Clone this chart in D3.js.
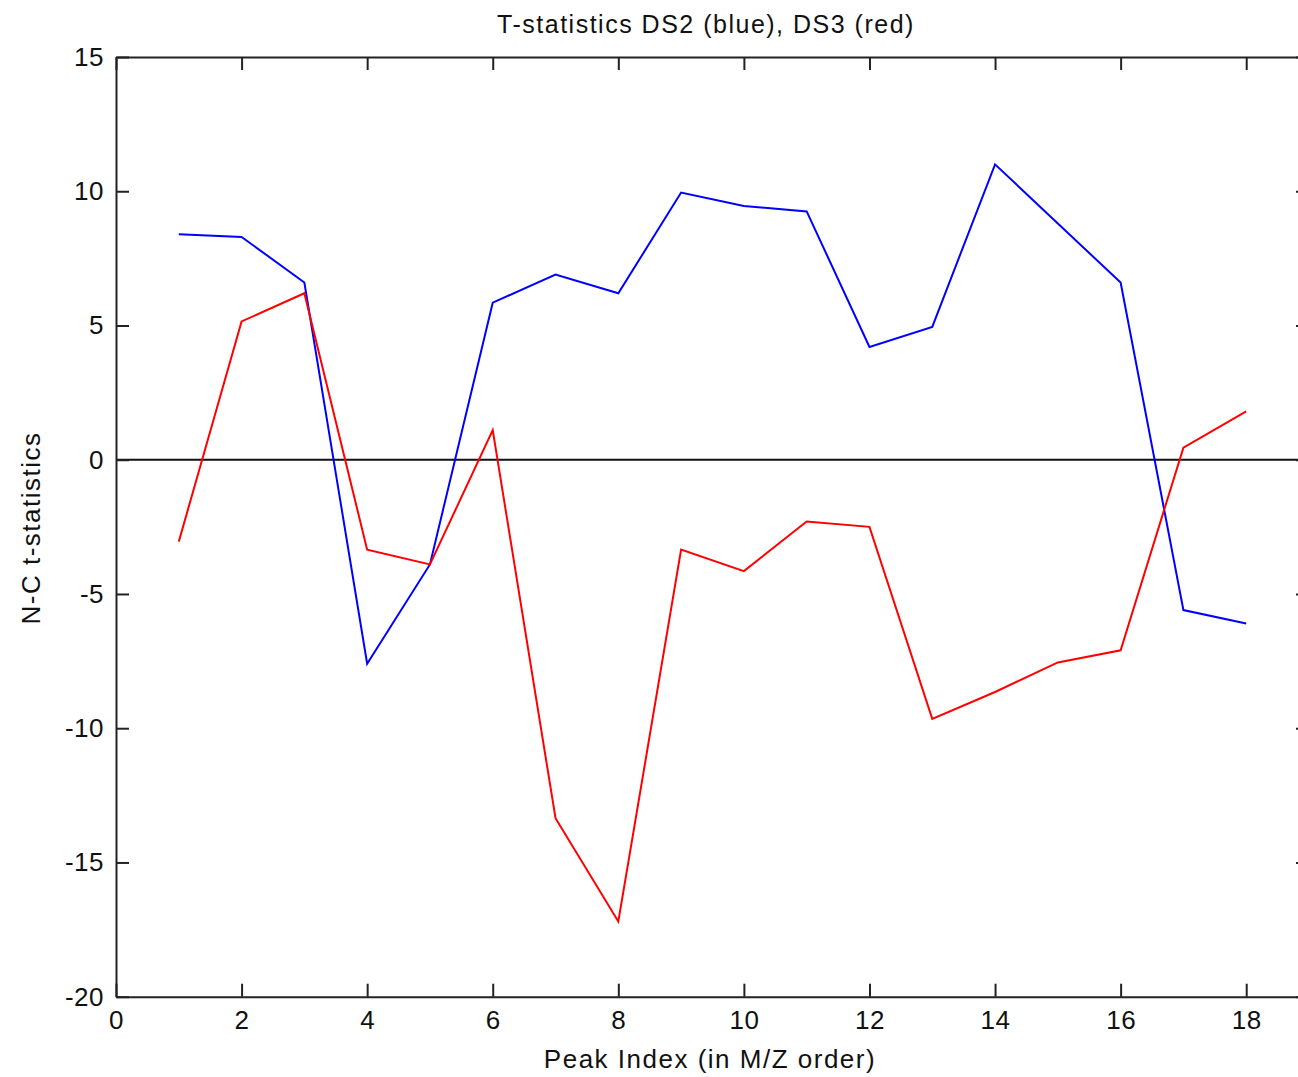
<!DOCTYPE html>
<html>
<head>
<meta charset="utf-8">
<script src="https://cdn.jsdelivr.net/npm/d3@7"></script>
<style>
  body { margin: 0; background: #fff; }
  svg { display: block; }
  .axis text { font-family: "Liberation Sans", Arial, sans-serif; font-size: 26px; fill: #111; letter-spacing: 0.5px; }
  .axis path, .axis line { stroke: #222; stroke-width: 2px; }
  .label { font-family: "Liberation Sans", Arial, sans-serif; fill: #111; letter-spacing: 1.5px; }
</style>
</head>
<body>
<div class="viz"></div>
<script>
// peak index along x, t-statistics for the two data sets
var peakIndex = [1, 2, 3, 4, 5, 6, 7, 8, 9, 10, 11, 12, 13, 14, 15, 16, 17, 18];
var ds2 = [8.4, 8.3, 6.6, -7.6, -3.9, 5.85, 6.9, 6.2, 9.95, 9.45, 9.25, 4.2, 4.95, 11.0, 8.8, 6.6, -5.6, -6.1];
var ds3 = [-3.05, 5.15, 6.2, -3.35, -3.9, 1.1, -13.35, -17.2, -3.35, -4.15, -2.3, -2.5, -9.65, -8.65, -7.55, -7.1, 0.45, 1.8];
var xTicks = [0, 2, 4, 6, 8, 10, 12, 14, 16, 18];
var yTicks = [-20, -15, -10, -5, 0, 5, 10, 15];

var width = 1298,
  height = 1077,
  margin = { top: 57, left: 116, bottom: 80, right: -11 };

var svg = d3
  .select(".viz")
  .append("svg")
  .attr("width", width)
  .attr("height", height);

svg.append("rect").attr("width", width).attr("height", height).attr("fill", "#fff");

var x = d3
  .scaleLinear()
  .domain([0, 19])
  .range([margin.left, width - margin.right]);

var y = d3
  .scaleLinear()
  .domain([-20, 15])
  .range([996.7, margin.top]);

var line = d3
  .line()
  .x(function (d, i) {
    return x(peakIndex[i]);
  })
  .y(function (d) {
    return y(d);
  });

// plain hyphen for negatives, like the original
var plain = function (d) {
  return String(d);
};

// zero line
svg
  .append("line")
  .attr("x1", x(0))
  .attr("x2", x(19))
  .attr("y1", y(0))
  .attr("y2", y(0))
  .attr("stroke", "#111")
  .attr("stroke-width", 2);

svg
  .append("path")
  .datum(ds2)
  .attr("d", line)
  .attr("fill", "none")
  .attr("stroke", "#0000ff")
  .attr("stroke-width", 2);

svg
  .append("path")
  .datum(ds3)
  .attr("d", line)
  .attr("fill", "none")
  .attr("stroke", "#ff0000")
  .attr("stroke-width", 2);

// axes, ticks pointing inward on all four sides
svg
  .append("g")
  .attr("class", "axis")
  .attr("transform", "translate(0," + y(-20) + ")")
  .call(d3.axisBottom(x).tickValues(xTicks).tickSizeInner(-13).tickSizeOuter(0).tickPadding(14).tickFormat(plain));

svg
  .append("g")
  .attr("class", "axis")
  .attr("transform", "translate(0," + y(15) + ")")
  .call(d3.axisTop(x).tickValues(xTicks).tickSizeInner(-13).tickSizeOuter(0).tickFormat(""));

svg
  .append("g")
  .attr("class", "axis")
  .attr("transform", "translate(" + x(0) + ",0)")
  .call(d3.axisLeft(y).tickValues(yTicks).tickSizeInner(-13).tickSizeOuter(0).tickPadding(12).tickFormat(plain));

svg
  .append("g")
  .attr("class", "axis")
  .attr("transform", "translate(" + x(19) + ",0)")
  .call(d3.axisRight(y).tickValues(yTicks).tickSizeInner(-13).tickSizeOuter(0).tickFormat(""));

svg
  .append("text")
  .attr("class", "label")
  .attr("x", 706)
  .attr("y", 33)
  .attr("text-anchor", "middle")
  .style("font-size", "25px")
  .text("T-statistics DS2 (blue), DS3 (red)");

svg
  .append("text")
  .attr("class", "label")
  .attr("x", 710)
  .attr("y", 1068)
  .attr("text-anchor", "middle")
  .style("font-size", "26px")
  .text("Peak Index (in M/Z order)");

svg
  .append("text")
  .attr("class", "label")
  .attr("transform", "translate(40,528) rotate(-90)")
  .attr("text-anchor", "middle")
  .style("font-size", "26px")
  .text("N-C t-statistics");
</script>
</body>
</html>
